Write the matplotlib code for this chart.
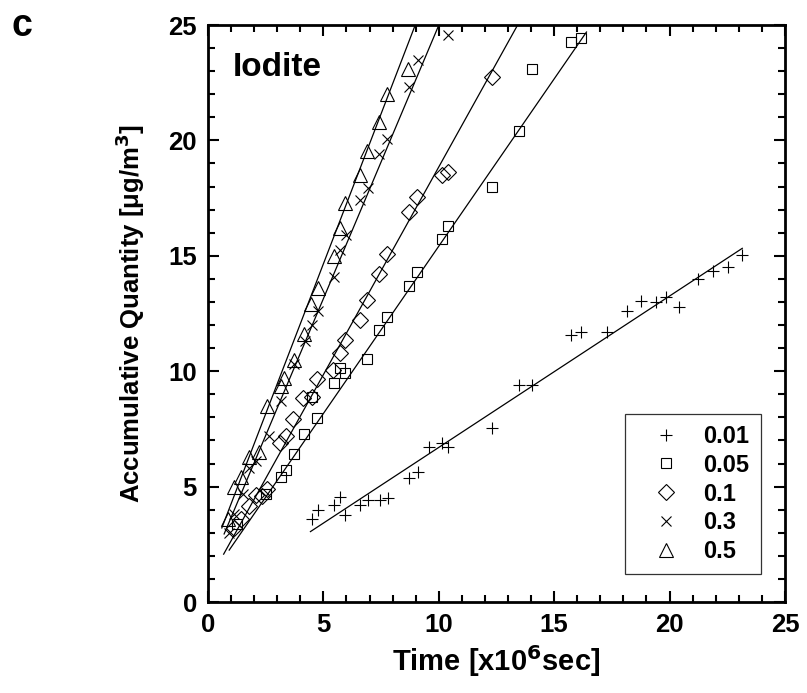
import matplotlib
matplotlib.use("Agg")
from matplotlib import pyplot as plt
from matplotlib.ticker import MultipleLocator
import numpy as np

# 数据 (时间 x10^6 sec, 累积量 ug/m3)
labels = ["0.01", "0.05", "0.1", "0.3", "0.5"]
markers = ["+", "s", "D", "x", "^"]

x_001 = [4.51, 4.75, 5.44, 5.71, 5.95, 6.57, 6.93, 7.46, 7.79, 8.72, 9.08, 9.57, 10.12, 10.40,
         12.31, 13.49, 14.06, 15.72, 16.15, 17.30, 18.16, 18.76, 19.43, 19.84, 20.39, 21.22,
         21.87, 22.54, 23.15]
y_001 = [3.58, 3.99, 4.20, 4.56, 3.77, 4.20, 4.42, 4.42, 4.49, 5.36, 5.65, 6.73, 6.90, 6.73,
         7.53, 9.40, 9.40, 11.57, 11.71, 11.71, 12.60, 13.04, 12.99, 13.20, 12.77, 13.98,
         14.36, 14.53, 15.03]

x_005 = [1.25, 2.5, 3.15, 3.36, 3.72, 4.15, 4.5, 4.73, 5.44, 5.7, 5.95, 6.91, 7.41, 7.74, 8.71,
         9.07, 10.14, 10.4, 12.31, 13.49, 14.04, 15.75, 16.15]
y_005 = [3.4, 4.7, 5.43, 5.72, 6.42, 7.3, 8.9, 7.96, 9.5, 10.13, 9.91, 10.51, 11.79, 12.37, 13.69,
         14.31, 15.71, 16.29, 17.99, 20.41, 23.08, 24.25, 24.45]

x_01 = [1.13, 1.45, 1.78, 2.1, 2.36, 2.57, 3.1, 3.36, 3.69, 4.12, 4.5, 4.73, 5.4, 5.7, 5.95,
        6.57, 6.88, 7.41, 7.74, 8.71, 9.07, 10.12, 10.4, 12.31]
y_01 = [3.2, 3.6, 4.15, 4.64, 4.6, 4.9, 6.9, 7.2, 7.93, 8.85, 8.9, 9.65, 10.05, 10.8, 11.37,
        12.2, 13.1, 14.2, 15.08, 16.88, 17.56, 18.5, 18.65, 22.76]

x_03 = [0.92, 1.13, 1.5, 1.78, 2.07, 2.64, 3.15, 3.72, 4.22, 4.51, 4.75, 5.44, 5.73, 5.98,
        6.57, 6.93, 7.43, 7.77, 8.72, 9.11, 10.4]
y_03 = [3.0, 3.8, 4.7, 5.8, 6.1, 7.2, 8.7, 10.3, 11.3, 12.0, 12.6, 14.1, 15.25, 15.9,
        17.4, 17.95, 19.4, 20.05, 22.3, 23.5, 24.55]

x_05 = [0.85, 1.13, 1.45, 1.78, 2.2, 2.57, 3.15, 3.3, 3.72, 4.15, 4.45, 4.75, 5.44, 5.73,
        5.95, 6.6, 6.88, 7.41, 7.74, 8.68]
y_05 = [3.6, 5.0, 5.4, 6.3, 6.5, 8.5, 9.35, 9.7, 10.5, 11.6, 12.9, 13.6, 15.0, 16.2,
        17.3, 18.5, 19.55, 20.8, 22.0, 23.1]

xs = [x_001, x_005, x_01, x_03, x_05]
ys = [y_001, y_005, y_01, y_03, y_05]

# 拟合直线 (斜率, 截距, x 起止)
fit_slope = [0.656, 1.450, 1.80, 2.37, 2.60]
fit_icpt = [0.138, 0.916, 0.85, 1.29, 1.65]
fit_x0 = [4.44, 0.92, 0.68, 0.70, 0.60]
fit_x1 = [23.15, 16.4, 14.0, 11.0, 10.0]

marker_size = [9, 7.5, 8, 7.5, 9.5]

plt.rcParams['font.family'] = ['Liberation Sans', 'DejaVu Sans']
plt.rcParams['font.weight'] = 'bold'

fig = plt.figure(figsize=(8.07, 6.93), dpi=100)
ax = fig.add_axes([0.2577, 0.1313, 0.7150, 0.8326])

for i in range(len(labels)):
    ax.plot(xs[i], ys[i], linestyle='none', marker=markers[i], markersize=marker_size[i],
            markerfacecolor='none', markeredgecolor='black', markeredgewidth=0.8,
            color='black', label=labels[i])
    lx = np.array([fit_x0[i], fit_x1[i]])
    ax.plot(lx, fit_slope[i] * lx + fit_icpt[i], color='black', linewidth=0.9)

ax.set_xlim(0, 25)
ax.set_ylim(0, 25)
ax.xaxis.set_major_locator(MultipleLocator(5))
ax.xaxis.set_minor_locator(MultipleLocator(1))
ax.yaxis.set_major_locator(MultipleLocator(5))
ax.yaxis.set_minor_locator(MultipleLocator(1))
ax.tick_params(which='both', direction='in', top=True, right=True, width=1.5, labelsize=18.5, pad=8)
ax.tick_params(which='major', length=8)
ax.tick_params(which='minor', length=5)
for s in ax.spines.values():
    s.set_linewidth(2)

ax.set_xlabel("Time [x10$^{\\mathbf{6}}$sec]", fontsize=21, fontweight='bold', labelpad=4)
ax.set_ylabel("Accumulative Quantity [\u03bcg/m$^{\\mathbf{3}}$]", fontsize=18.5, fontweight='bold', labelpad=15)

ax.text(1.08, 22.8, "Iodite", fontsize=24, fontweight='bold')
fig.text(0.014, 0.962, "c", fontsize=27, fontweight='bold', va='center')

leg = ax.legend(loc='lower left', bbox_to_anchor=(0.723, 0.0485, 0.235, 0.279), mode='expand',
                fontsize=17, frameon=True, fancybox=False, borderpad=0.45, labelspacing=0.25,
                handlelength=2.6, handletextpad=0.25, borderaxespad=0)
leg.get_frame().set_edgecolor('black')
leg.get_frame().set_linewidth(0.9)

plt.savefig("out.png", dpi=100)
